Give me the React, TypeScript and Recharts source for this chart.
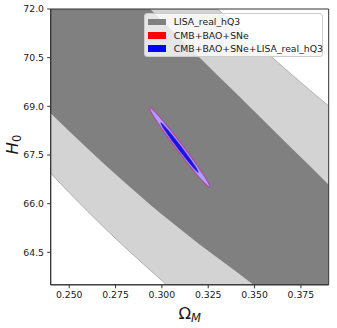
import React from 'react';
import { ComposedChart, Area, XAxis, YAxis, ReferenceArea } from 'recharts';

// ---- axes ----
const xTicks = [0.25, 0.275, 0.3, 0.325, 0.35, 0.375];
const yTicks = [64.5, 66.0, 67.5, 69.0, 70.5, 72.0];

// ---- LISA_real_hQ3 contour boundaries (clipped to frame) ----
const omegaGrid = [0.24, 0.25, 0.26, 0.27, 0.28, 0.29, 0.2937, 0.3, 0.3024, 0.31, 0.32, 0.33, 0.34, 0.3494, 0.35, 0.36, 0.37, 0.38, 0.39];
const lisa2Lower = [66.94, 66.34, 65.76, 65.2, 64.66, 64.14, 63.95, 63.63, 63.5, 63.5, 63.5, 63.5, 63.5, 63.5, 63.5, 63.5, 63.5, 63.5, 63.5];
const lisa2Upper = [72, 72, 72, 72, 72, 72, 72, 72, 72, 72, 72, 72, 71.49, 71.01, 70.98, 70.48, 69.98, 69.49, 69.01];
const lisa1Lower = [68.79, 68.23, 67.69, 67.16, 66.65, 66.15, 65.97, 65.67, 65.56, 65.21, 64.76, 64.33, 63.91, 63.5, 63.5, 63.5, 63.5, 63.5, 63.5];
const lisa1Upper = [72, 72, 72, 72, 72, 72, 72, 71.64, 71.51, 71.08, 70.52, 69.96, 69.4, 68.87, 68.84, 68.27, 67.71, 67.15, 66.58];

// ---- CMB+BAO+SNe(+LISA) ellipses ----
const outerOmega = [0.29351, 0.2937, 0.29451, 0.29613, 0.29883, 0.30153, 0.30423, 0.30693, 0.30963, 0.31233, 0.31503, 0.31773, 0.32043, 0.32313, 0.32475, 0.32556, 0.32575];
const outerUpper = [68.934, 68.944, 68.915, 68.827, 68.658, 68.476, 68.288, 68.093, 67.894, 67.69, 67.482, 67.268, 67.046, 66.813, 66.659, 66.567, 66.528];
const outerLower = [68.934, 68.895, 68.803, 68.649, 68.416, 68.194, 67.98, 67.771, 67.568, 67.369, 67.174, 66.986, 66.804, 66.635, 66.546, 66.518, 66.528];

const innerOmega = [0.29937, 0.29977, 0.30085, 0.30301, 0.30517, 0.30733, 0.30949, 0.31165, 0.31381, 0.31597, 0.31813, 0.31921, 0.31961];
const innerUpper = [68.494, 68.485, 68.427, 68.289, 68.141, 67.987, 67.828, 67.664, 67.496, 67.321, 67.137, 67.033, 66.982];
const innerLower = [68.481, 68.429, 68.325, 68.14, 67.966, 67.798, 67.634, 67.475, 67.321, 67.172, 67.035, 66.977, 66.968];

const legendLabels = ['LISA_real_hQ3', 'CMB+BAO+SNe', 'CMB+BAO+SNe+LISA_real_hQ3'];
const legendColors = ['#808080', '#ff0000', '#0000ff'];

const W = 337;
const H = 328;
const FONT = "'DejaVu Sans', sans-serif";
const tickStyle = { fontFamily: FONT, fontSize: 9.3, fill: '#1a1a1a' };

const XLabel = (props: any) => {
  const vb = props.viewBox || { x: 0, y: 0, width: 0, height: 0 };
  return (
    <text x={vb.x + vb.width / 2} y={vb.y + 34.5} textAnchor="middle" fontFamily={FONT} fontSize={16.5} fill="#1a1a1a">
      <tspan>Ω</tspan>
      <tspan fontStyle="italic" fontSize={11.5} dy={3}>M</tspan>
    </text>
  );
};

const YLabel = (props: any) => {
  const vb = props.viewBox || { x: 0, y: 0, width: 0, height: 0 };
  const cx = vb.x + 17.5;
  const cy = vb.y + vb.height / 2 - 2.4;
  return (
    <text x={cx} y={cy} textAnchor="middle" transform={`rotate(-90 ${cx} ${cy})`} fontFamily={FONT} fontSize={16.5} fill="#1a1a1a">
      <tspan fontStyle="italic">H</tspan>
      <tspan fontSize={11.5} dy={3}>0</tspan>
    </text>
  );
};

export default function App() {
  const lisaRows = omegaGrid.map((x, i) => ({
    x,
    l2: [lisa2Lower[i], lisa2Upper[i]],
    l1: [lisa1Lower[i], lisa1Upper[i]],
  }));
  const outerRows = outerOmega.map((x, i) => ({ x, r: [outerLower[i], outerUpper[i]] }));
  const innerRows = innerOmega.map((x, i) => ({ x, r: [innerLower[i], innerUpper[i]] }));

  return (
    <div style={{ position: 'absolute', left: 0, top: 0, width: W, height: H, background: '#fff' }}>
      <ComposedChart width={W} height={H} margin={{ top: 9, right: 8.3, bottom: 0, left: 0 }}>
        <XAxis
          type="number"
          dataKey="x"
          domain={[0.24, 0.39]}
          allowDataOverflow
          ticks={xTicks}
          interval={0}
          tickFormatter={(v: number) => v.toFixed(3)}
          height={43.2}
          tickSize={3.5}
          tickMargin={3.3}
          tick={tickStyle}
          tickLine={{ stroke: '#333' }}
          axisLine={{ stroke: '#333' }}
          label={XLabel}
        />
        <YAxis
          type="number"
          domain={[63.5, 72]}
          allowDataOverflow
          ticks={yTicks}
          interval={0}
          tickFormatter={(v: number) => v.toFixed(1)}
          width={50.7}
          tickSize={3.5}
          tickMargin={3.2}
          tick={tickStyle}
          tickLine={{ stroke: '#333' }}
          axisLine={{ stroke: '#333' }}
          label={YLabel}
        />
        <Area data={lisaRows} dataKey="l2" type="linear" fill="#d3d3d3" fillOpacity={1} stroke="#b0b0b0" strokeWidth={1} dot={false} activeDot={false} isAnimationActive={false} />
        <Area data={lisaRows} dataKey="l1" type="linear" fill="#808080" fillOpacity={1} stroke="none" dot={false} activeDot={false} isAnimationActive={false} />
        <Area data={outerRows} dataKey="r" type="monotone" fill="#f08080" fillOpacity={1} stroke="#e0306a" strokeWidth={1.6} dot={false} activeDot={false} isAnimationActive={false} />
        <Area data={outerRows} dataKey="r" type="monotone" fill="#aaa2f6" fillOpacity={1} stroke="#8f55dc" strokeWidth={0.7} dot={false} activeDot={false} isAnimationActive={false} />
        <Area data={innerRows} dataKey="r" type="monotone" fill="#1c10e2" fillOpacity={1} stroke="#3326ea" strokeWidth={0.6} dot={false} activeDot={false} isAnimationActive={false} />
        <ReferenceArea x1={0.24} x2={0.39} y1={63.5} y2={72} fill="none" fillOpacity={0} stroke="#333" strokeWidth={1} ifOverflow="visible" />
      </ComposedChart>
      <div
        style={{
          position: 'absolute',
          left: 144,
          top: 13.3,
          width: 179.3,
          height: 44,
          boxSizing: 'border-box',
          background: 'rgba(255,255,255,0.8)',
          border: '1px solid #cccccc',
          borderRadius: 3,
          fontFamily: FONT,
          fontSize: 9.3,
          color: '#1a1a1a',
        }}
      >
        {legendLabels.map((label, i) => (
          <div key={label} style={{ position: 'absolute', left: 0, top: 1.2 + i * 13.3, height: 13.3, width: '100%' }}>
            <div style={{ position: 'absolute', left: 2.8, top: 3.4, width: 18.7, height: 6.5, background: legendColors[i] }} />
            <div style={{ position: 'absolute', left: 28.8, top: 0, lineHeight: '13.3px', whiteSpace: 'nowrap' }}>{label}</div>
          </div>
        ))}
      </div>
    </div>
  );
}
